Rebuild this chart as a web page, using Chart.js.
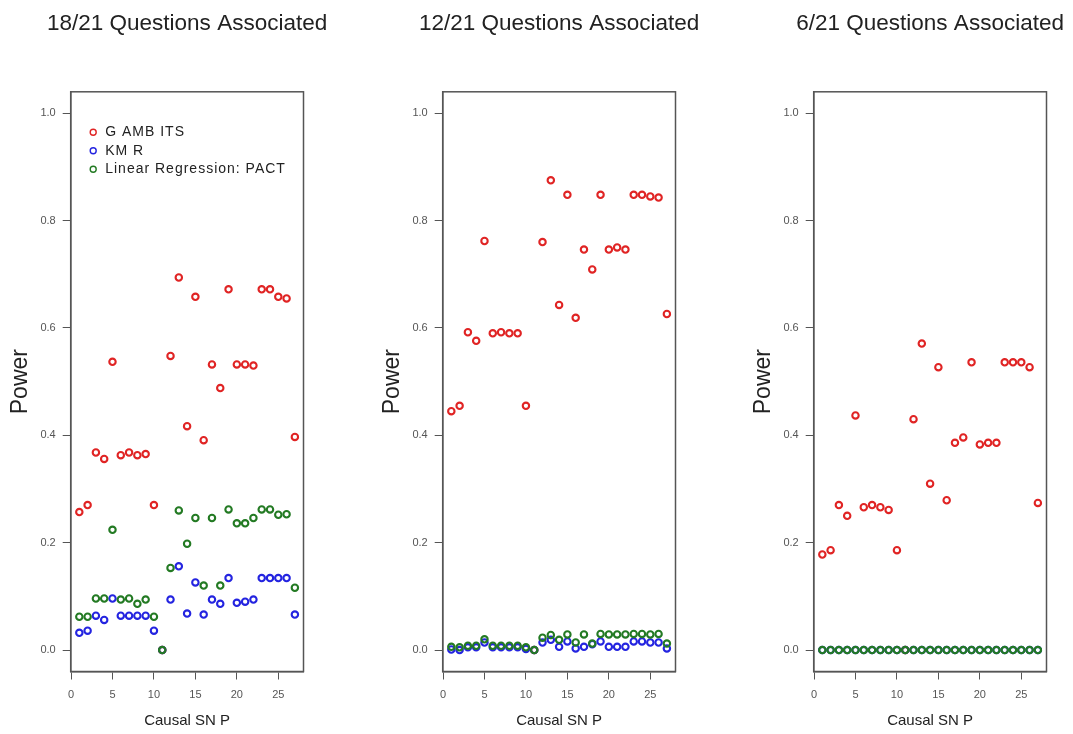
<!DOCTYPE html>
<html>
<head>
<meta charset="utf-8">
<script src="https://cdn.jsdelivr.net/npm/chart.js@4.4.1/dist/chart.umd.min.js"></script>
<style>
  html, body { margin: 0; padding: 0; background: #fff; overflow: hidden; width: 1073px; height: 734px; }
  canvas { position: absolute; top: 0; }
</style>
</head>
<body>
<canvas id="p1" width="357" height="734" style="left:0px"></canvas>
<canvas id="p2" width="357" height="734" style="left:372px"></canvas>
<canvas id="p3" width="357" height="734" style="left:743px"></canvas>
<script>
// Causal SNP index 1..27
const snpIndex = [1,2,3,4,5,6,7,8,9,10,11,12,13,14,15,16,17,18,19,20,21,22,23,24,25,26,27];

const seriesNames = ['G AMB ITS', 'KM R', 'Linear Regression: PACT'];
const panelTitles = ['18/21 Questions Associated', '12/21 Questions Associated', '6/21 Questions Associated'];

const xTickValues = [0, 5, 10, 15, 20, 25];
const yTickValues = [0, 0.2, 0.4, 0.6, 0.8, 1.0];

// 18/21 questions associated
const gambits18 = [0.257,0.270,0.368,0.356,0.537,0.363,0.368,0.363,0.365,0.270,0.000,0.548,0.694,0.417,0.658,0.391,0.532,0.488,0.672,0.532,0.532,0.530,0.672,0.672,0.658,0.655,0.397];
const kmr18     = [0.032,0.036,0.064,0.056,0.096,0.064,0.064,0.064,0.064,0.036,0.000,0.094,0.156,0.068,0.126,0.066,0.094,0.086,0.134,0.088,0.090,0.094,0.134,0.134,0.134,0.134,0.066];
const pact18    = [0.062,0.062,0.096,0.096,0.224,0.094,0.096,0.086,0.094,0.062,0.000,0.153,0.260,0.198,0.246,0.120,0.246,0.120,0.262,0.236,0.236,0.246,0.262,0.262,0.252,0.253,0.116];

// 12/21 questions associated
const gambits12 = [0.445,0.455,0.592,0.576,0.762,0.590,0.592,0.590,0.590,0.455,0.000,0.760,0.875,0.643,0.848,0.619,0.746,0.709,0.848,0.746,0.750,0.746,0.848,0.848,0.845,0.843,0.626];
const kmr12     = [0.001,0.000,0.005,0.005,0.014,0.005,0.005,0.005,0.005,0.002,0.000,0.014,0.019,0.006,0.016,0.003,0.006,0.011,0.016,0.006,0.006,0.006,0.016,0.016,0.014,0.014,0.003];
const pact12    = [0.006,0.005,0.008,0.008,0.020,0.008,0.008,0.008,0.008,0.005,0.000,0.023,0.028,0.019,0.029,0.014,0.029,0.012,0.030,0.029,0.029,0.029,0.030,0.030,0.029,0.030,0.012];

// 6/21 questions associated
const gambits6 = [0.178,0.186,0.270,0.250,0.437,0.266,0.270,0.266,0.261,0.186,0.000,0.430,0.571,0.310,0.527,0.279,0.386,0.396,0.536,0.383,0.386,0.386,0.536,0.536,0.536,0.527,0.274];
const kmr6     = [0,0,0,0,0,0,0,0,0,0,0,0,0,0,0,0,0,0,0,0,0,0,0,0,0,0,0];
const pact6    = [0,0,0,0,0,0,0,0,0,0,0,0,0,0,0,0,0,0,0,0,0,0,0,0,0,0,0];

const seriesColors = ['#e02424', '#2424e0', '#237a23'];
const FONT = '"Liberation Sans", Arial, sans-serif';
const AXIS_COLOR = '#555';

// Box around the plotting region
const framePlugin = {
  id: 'frame',
  beforeDatasetsDraw(chart) {
    const { ctx, chartArea: a } = chart;
    ctx.save();
    ctx.strokeStyle = AXIS_COLOR;
    ctx.lineWidth = 1.5;
    ctx.strokeRect(a.left, a.top, a.right - a.left, a.bottom - a.top);
    ctx.restore();
  }
};

// Panel heading centred over the plotting region
const panelTitlePlugin = {
  id: 'panelTitle',
  afterDraw(chart, args, opts) {
    const { ctx, chartArea: a } = chart;
    ctx.save();
    ctx.font = '22.5px ' + FONT;
    ctx.fillStyle = '#222';
    ctx.textAlign = 'center';
    ctx.textBaseline = 'middle';
    ctx.fillText(opts.text || '', (a.left + a.right) / 2, 24);
    ctx.restore();
  }
};

// Legend placed inside the top-left corner of the plotting region
const insetLegendPlugin = {
  id: 'insetLegend',
  afterDraw(chart, args, opts) {
    if (!opts.show) return;
    const { ctx, chartArea: a } = chart;
    const sets = chart.data.datasets;
    ctx.save();
    ctx.font = '14px ' + FONT;
    ctx.letterSpacing = '1px';
    ctx.textBaseline = 'middle';
    ctx.textAlign = 'left';
    sets.forEach((ds, i) => {
      const y = a.top + 40.5 + i * 18.5;
      const x = a.left + 22.5;
      ctx.beginPath();
      ctx.arc(x, y, 3, 0, Math.PI * 2);
      ctx.strokeStyle = ds.borderColor;
      ctx.lineWidth = 1.4;
      ctx.stroke();
      ctx.fillStyle = '#222';
      ctx.fillText(ds.label, x + 12, y);
    });
    ctx.restore();
  }
};

function toPoints(values) {
  return snpIndex.map((x, i) => ({ x: x, y: values[i] }));
}

function makePanel(canvasId, title, red, blue, green, showLegend) {
  const series = [red, blue, green];
  const datasets = series.map((vals, i) => ({
    label: seriesNames[i],
    data: toPoints(vals),
    borderColor: seriesColors[i],
    backgroundColor: 'rgba(0,0,0,0)',
    pointStyle: 'circle',
    pointRadius: 3.2,
    pointBorderWidth: 2.1,
    pointHoverRadius: 3.2,
    showLine: false,
    order: 2 - i
  }));

  return new Chart(document.getElementById(canvasId), {
    type: 'scatter',
    data: { datasets },
    options: {
      responsive: false,
      animation: false,
      devicePixelRatio: 1,
      layout: { padding: { top: 91.8, right: 53.5, bottom: 0, left: 0 } },
      plugins: {
        legend: { display: false },
        tooltip: { enabled: false },
        title: { display: false },
        panelTitle: { text: title },
        insetLegend: { show: showLegend }
      },
      scales: {
        x: {
          type: 'linear',
          min: -0.04,
          max: 28.04,
          afterBuildTicks: s => { s.ticks = xTickValues.map(v => ({ value: v })); },
          afterFit: s => { s.height = 62.5; },
          grid: { display: true, drawOnChartArea: false, drawTicks: true, tickLength: 8, color: AXIS_COLOR, lineWidth: 1 },
          border: { display: true, color: AXIS_COLOR, width: 1.5 },
          ticks: { color: '#555', font: { family: FONT, size: 11 }, padding: 9, maxRotation: 0 },
          title: { display: true, text: 'Causal SN P', color: '#222', font: { family: FONT, size: 15 }, padding: { top: 0, bottom: 4.5 } }
        },
        y: {
          type: 'linear',
          min: -0.04,
          max: 1.04,
          afterBuildTicks: s => { s.ticks = yTickValues.map(v => ({ value: v })); },
          afterFit: s => { s.width = 70.7; },
          grid: { display: true, drawOnChartArea: false, drawTicks: true, tickLength: 8, color: AXIS_COLOR, lineWidth: 1 },
          border: { display: true, color: AXIS_COLOR, width: 1.5 },
          ticks: { color: '#555', font: { family: FONT, size: 11 }, padding: 7, callback: v => Number(v).toFixed(1) },
          title: { display: true, text: 'Power', color: '#222', font: { family: FONT, size: 23 }, padding: { top: 7, bottom: 0 } }
        }
      }
    },
    plugins: [framePlugin, panelTitlePlugin, insetLegendPlugin]
  });
}

makePanel('p1', panelTitles[0], gambits18, kmr18, pact18, true);
makePanel('p2', panelTitles[1], gambits12, kmr12, pact12, false);
makePanel('p3', panelTitles[2], gambits6, kmr6, pact6, false);
</script>
</body>
</html>
